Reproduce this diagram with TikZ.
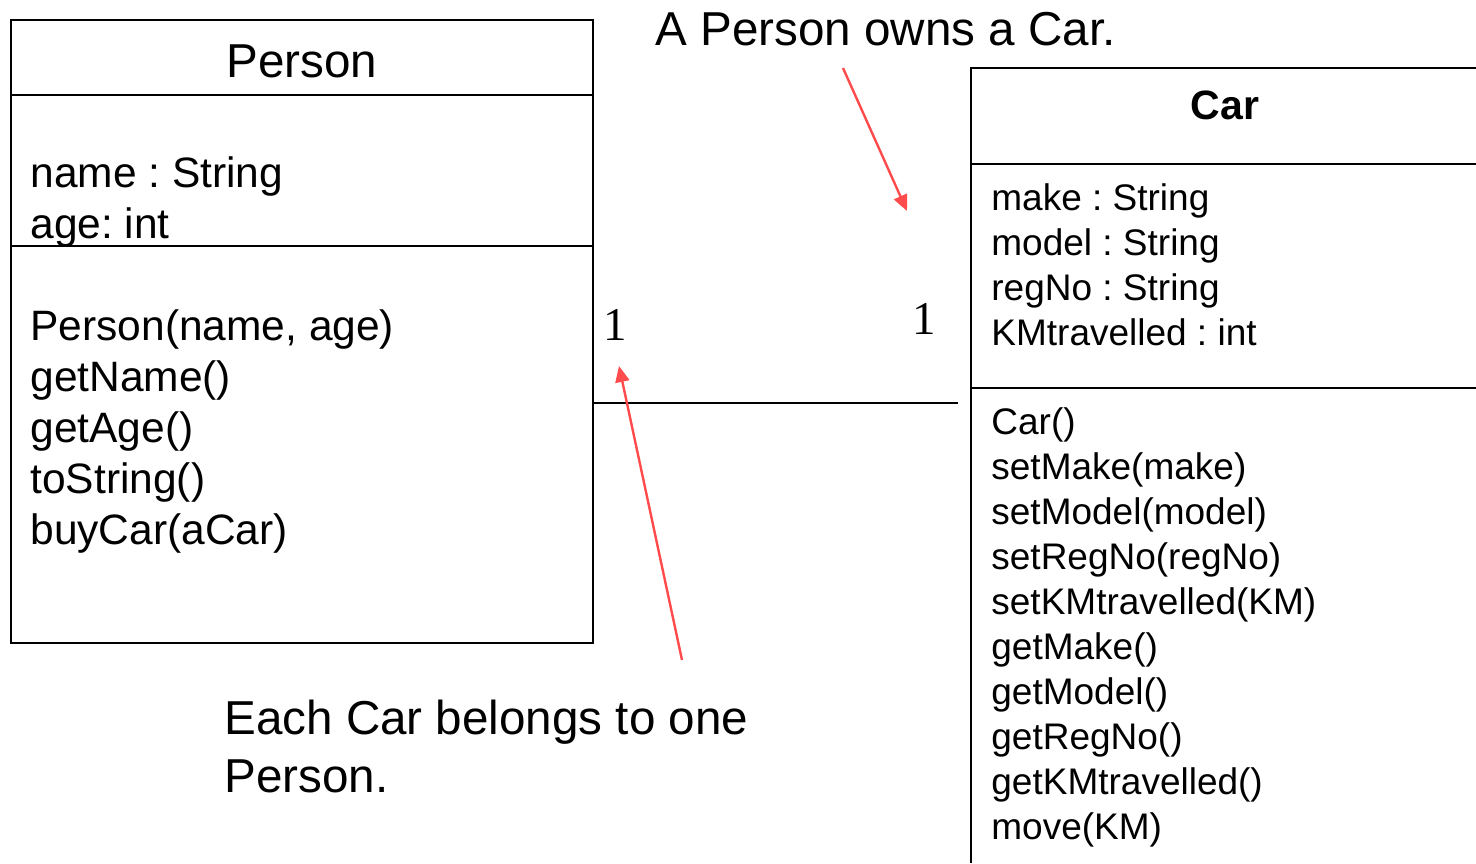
\documentclass[tikz,border=0pt]{standalone}
\usepackage{fontspec}
\setmainfont{Liberation Sans}
\newfontfamily\numfont{Liberation Serif}
\usetikzlibrary{arrows.meta}
\frenchspacing

\definecolor{notered}{HTML}{FF4B4B}

\tikzset{
  boxline/.style={line width=1.4pt, black},
  divider/.style={line width=1pt, black},
  txt/.style={inner sep=0pt, anchor=base west},
  big/.style={txt, font=\fontsize{23.8}{29}\selectfont},
  pmember/.style={txt, font=\fontsize{21.25}{25}\selectfont},
  cmember/.style={txt, font=\fontsize{18.5}{22}\selectfont},
  ctitle/.style={inner sep=0pt, anchor=base, font=\fontsize{20.5}{24}\selectfont\bfseries},
  mult/.style={inner sep=0pt, anchor=base west, font=\fontsize{23.5}{28}\numfont},
  assoc/.style={line width=1pt, black},
  pointer/.style={notered, line width=1.2pt, -{Triangle[length=8pt,width=7pt]}}
}

\begin{document}
\begin{tikzpicture}[x=0.5pt, y=-0.5pt]
\useasboundingbox (0,0) rectangle (1476,863);

% Person class box
\draw[boxline] (11,20) rectangle (593,643);
\coordinate (personEast) at (593,403);
\draw[divider] (11,95) -- (593,95);
\draw[divider] (11,246) -- (593,246);
\node[big, anchor=base] (personTitle) at (302,77) {Person};
\node[pmember] (pAttr1) at (30,187) {name : String};
\node[pmember] (pAttr2) at (30,238) {age: int};
\node[pmember] (pOp1) at (30,340) {Person(name, age)};
\node[pmember] (pOp2) at (30,391) {getName()};
\node[pmember] (pOp3) at (30,442) {getAge()};
\node[pmember] (pOp4) at (30,493) {toString()};
\node[pmember] (pOp5) at (30,544) {buyCar(aCar)};

% Car class box (runs off the page to the right and bottom)
\draw[boxline] (1476,68) -- (971,68) -- (971,863);
\draw[divider] (971,164) -- (1476,164);
\draw[divider] (971,388) -- (1476,388);
\node[ctitle] (carTitle) at (1225,119) {Car};
\node[cmember] (cAttr1) at (991,210) {make : String};
\node[cmember] (cAttr2) at (991,255) {model : String};
\node[cmember] (cAttr3) at (991,300) {regNo : String};
\node[cmember] (cAttr4) at (991,345) {KMtravelled : int};
\node[cmember] (cOp1) at (991,434) {Car()};
\node[cmember] (cOp2) at (991,479) {setMake(make)};
\node[cmember] (cOp3) at (991,524) {setModel(model)};
\node[cmember] (cOp4) at (991,569) {setRegNo(regNo)};
\node[cmember] (cOp5) at (991,614) {setKMtravelled(KM)};
\node[cmember] (cOp6) at (991,659) {getMake()};
\node[cmember] (cOp7) at (991,704) {getModel()};
\node[cmember] (cOp8) at (991,749) {getRegNo()};
\node[cmember] (cOp9) at (991,794) {getKMtravelled()};
\node[cmember] (cOp10) at (991,839) {move(KM)};

% Association with multiplicities
\coordinate (carSide) at (958,403);
\draw[assoc] (personEast) -- (carSide);
\node[mult] (multPerson) at (603,340) {1};
\node[mult] (multCar) at (912,334) {1};

% Notes with pointers
\node[big] (noteOwns) at (655,45) {A Person owns a Car.};
\coordinate (ownsFrom) at (843,68);
\coordinate (ownsTo) at (907,211);
\draw[pointer] (ownsFrom) -- (ownsTo);

\node[big, align=left, anchor=base west] (noteBelongs) at (224,792) {Each Car belongs to one\\Person.};
\coordinate (belongsFrom) at (682,660);
\coordinate (belongsTo) at (619,366);
\draw[pointer] (belongsFrom) -- (belongsTo);
\end{tikzpicture}
\end{document}
